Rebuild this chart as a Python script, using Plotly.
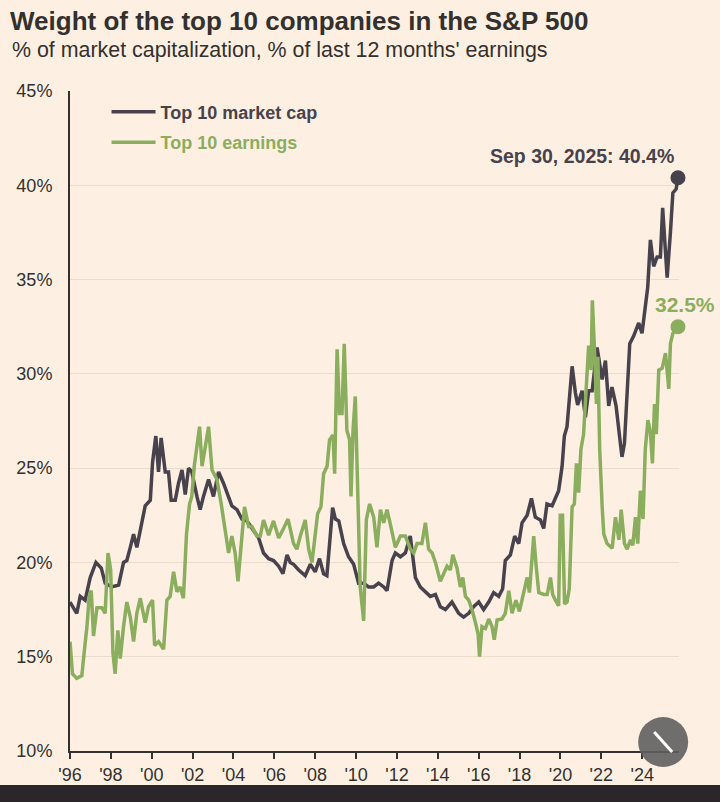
import plotly.graph_objects as go

# values (decimal year, % weight)
mcap_t = [1996.00, 1996.33, 1996.50, 1996.74, 1996.99, 1997.27, 1997.53, 1997.72, 1998.05, 1998.38,
          1998.62, 1998.78, 1998.95, 1999.11, 1999.27, 1999.44, 1999.68, 1999.93, 2000.04, 2000.20,
          2000.33, 2000.46, 2000.66, 2000.82, 2000.95, 2001.15, 2001.31, 2001.48, 2001.64, 2001.80,
          2001.96, 2002.21, 2002.37, 2002.53, 2002.78, 2003.02, 2003.27, 2003.51, 2003.68, 2003.92,
          2004.17, 2004.41, 2004.66, 2004.98, 2005.23, 2005.47, 2005.72, 2005.96, 2006.21, 2006.42,
          2006.62, 2006.78, 2006.94, 2007.19, 2007.51, 2007.76, 2008.00, 2008.21, 2008.41, 2008.57,
          2008.74, 2008.85, 2008.99, 2009.15, 2009.39, 2009.63, 2009.88, 2010.12, 2010.37, 2010.61,
          2010.86, 2011.10, 2011.35, 2011.51, 2011.76, 2011.92, 2012.17, 2012.41, 2012.65, 2012.90,
          2013.14, 2013.39, 2013.63, 2013.88, 2014.12, 2014.37, 2014.69, 2015.02, 2015.26, 2015.51,
          2015.75, 2016.00, 2016.24, 2016.49, 2016.73, 2016.98, 2017.17, 2017.30, 2017.55, 2017.76,
          2017.96, 2018.12, 2018.37, 2018.58, 2018.77, 2019.02, 2019.18, 2019.34, 2019.59, 2019.75,
          2019.91, 2020.08, 2020.19, 2020.32, 2020.57, 2020.73, 2020.84, 2021.06, 2021.22, 2021.38,
          2021.55, 2021.79, 2021.95, 2022.04, 2022.20, 2022.36, 2022.52, 2022.72, 2022.88, 2023.01,
          2023.13, 2023.26, 2023.39, 2023.58, 2023.83, 2023.99, 2024.15, 2024.27, 2024.40, 2024.56,
          2024.73, 2024.89, 2025.00, 2025.13, 2025.22, 2025.38, 2025.50, 2025.66, 2025.75]
mcap = [17.9, 17.3, 18.2, 18.0, 19.2, 20.0, 19.7, 18.9, 18.7, 18.8,
        20.0, 20.1, 20.8, 21.5, 20.8, 21.7, 23.0, 23.3, 25.3, 26.7,
        24.8, 26.6, 24.8, 24.8, 23.3, 23.3, 24.2, 24.9, 23.6, 25.0,
        24.8, 23.5, 22.8, 23.5, 24.4, 23.5, 24.8, 24.2, 23.7, 23.0,
        22.8, 22.3, 22.2, 21.7, 21.3, 20.5, 20.2, 20.1, 19.8, 19.4,
        20.4, 20.0, 19.9, 19.6, 19.3, 19.9, 19.5, 20.2, 19.4, 19.3,
        21.5, 22.9, 22.3, 22.2, 21.0, 20.3, 19.9, 18.9, 18.9, 18.7,
        18.7, 18.9, 18.7, 18.5, 20.1, 20.5, 20.3, 20.5, 21.4, 19.2,
        18.7, 18.45, 18.2, 18.3, 17.65, 17.5, 17.9, 17.3, 17.1, 17.3,
        17.65, 17.9, 17.5, 17.9, 18.4, 18.2, 18.6, 20.1, 20.4, 21.4,
        21.0, 22.1, 22.5, 23.4, 22.4, 22.25, 21.8, 23.1, 23.0, 23.4,
        23.8, 25.1, 26.7, 27.2, 30.4, 29.0, 28.35, 29.1, 27.7, 29.1,
        29.1, 31.4, 30.2, 29.7, 30.7, 28.3, 29.3, 28.3, 26.8, 25.6,
        26.3, 28.8, 31.6, 32.0, 32.7, 32.15, 33.6, 34.6, 37.1, 35.7,
        36.2, 36.2, 38.8, 36.9, 35.1, 37.5, 39.6, 39.8, 40.4]

earn_t = [1996.00, 1996.12, 1996.33, 1996.58, 1996.71, 1996.83, 1996.94, 1997.04, 1997.15, 1997.32,
          1997.56, 1997.72, 1997.86, 1997.99, 1998.10, 1998.21, 1998.34, 1998.46, 1998.62, 1998.78,
          1998.95, 1999.11, 1999.27, 1999.44, 1999.68, 1999.84, 2000.04, 2000.14, 2000.33, 2000.58,
          2000.74, 2000.90, 2001.07, 2001.23, 2001.39, 2001.55, 2001.70, 2001.85, 2001.96, 2002.08,
          2002.34, 2002.46, 2002.57, 2002.78, 2002.95, 2003.19, 2003.40, 2003.60, 2003.76, 2003.92,
          2004.08, 2004.22, 2004.38, 2004.54, 2004.74, 2004.90, 2005.15, 2005.31, 2005.47, 2005.72,
          2005.96, 2006.21, 2006.45, 2006.67, 2006.94, 2007.10, 2007.27, 2007.51, 2007.68, 2007.84,
          2007.97, 2008.12, 2008.28, 2008.41, 2008.58, 2008.70, 2008.87, 2008.95, 2009.07, 2009.19,
          2009.31, 2009.42, 2009.55, 2009.68, 2009.75, 2009.85, 2009.96, 2010.07, 2010.20, 2010.37,
          2010.50, 2010.66, 2010.86, 2011.02, 2011.19, 2011.35, 2011.51, 2011.68, 2011.92, 2012.17,
          2012.41, 2012.66, 2012.82, 2012.98, 2013.22, 2013.39, 2013.55, 2013.72, 2013.88, 2014.12,
          2014.29, 2014.45, 2014.61, 2014.73, 2014.94, 2015.10, 2015.22, 2015.35, 2015.51, 2015.67,
          2015.84, 2015.97, 2016.04, 2016.16, 2016.33, 2016.49, 2016.65, 2016.76, 2016.90, 2017.14,
          2017.30, 2017.47, 2017.63, 2017.82, 2017.99, 2018.20, 2018.37, 2018.48, 2018.58, 2018.69,
          2018.81, 2018.94, 2019.18, 2019.35, 2019.51, 2019.62, 2019.75, 2019.91, 2019.99, 2020.10,
          2020.20, 2020.32, 2020.43, 2020.57, 2020.68, 2020.78, 2020.89, 2021.00, 2021.13, 2021.27,
          2021.38, 2021.50, 2021.56, 2021.66, 2021.76, 2021.83, 2021.92, 2022.04, 2022.12, 2022.28,
          2022.53, 2022.69, 2022.86, 2022.97, 2023.13, 2023.26, 2023.43, 2023.54, 2023.67, 2023.78,
          2023.91, 2024.04, 2024.15, 2024.28, 2024.40, 2024.50, 2024.60, 2024.69, 2024.81, 2024.98,
          2025.14, 2025.30, 2025.38, 2025.50, 2025.75]
earn = [15.8, 14.1, 13.85, 14.0, 15.4, 16.6, 18.2, 18.5, 16.1, 17.6,
        17.6, 17.3, 20.5, 19.6, 15.2, 14.1, 16.4, 14.9, 16.6, 17.9,
        17.1, 15.8, 17.3, 18.1, 16.8, 17.65, 18.0, 15.6, 15.8, 15.4,
        18.0, 18.2, 19.5, 18.45, 18.7, 18.1, 21.5, 23.1, 23.5, 25.1,
        27.2, 25.1, 25.8, 27.2, 24.9, 24.4, 23.1, 21.5, 20.5, 21.4,
        20.5, 19.0, 20.8, 22.95, 21.9, 21.9, 21.4, 21.4, 22.25, 21.45,
        22.2, 21.3, 21.8, 22.3, 21.0, 20.7, 21.4, 22.25, 20.7, 20.0,
        21.2, 22.6, 22.95, 24.7, 25.1, 26.5, 26.75, 24.7, 31.3, 27.9,
        27.9, 31.6, 27.0, 26.5, 23.5, 27.0, 28.8, 24.0, 18.7, 16.9,
        22.25, 23.1, 22.4, 20.8, 22.8, 22.1, 22.8, 22.0, 20.8, 21.4,
        21.4, 20.7, 20.5, 21.0, 21.0, 22.1, 20.7, 20.5, 20.0, 19.0,
        19.4, 19.8, 19.6, 20.4, 19.7, 18.7, 19.2, 18.2, 18.0, 17.5,
        16.8, 16.2, 15.0, 16.6, 16.5, 17.0, 16.6, 15.9, 16.95, 17.0,
        17.3, 18.5, 17.3, 18.0, 17.4, 18.4, 19.2, 18.4, 19.6, 21.4,
        19.8, 18.4, 18.3, 18.3, 19.2, 18.3, 18.0, 17.7, 22.5, 22.5,
        17.8, 17.9, 18.6, 22.95, 23.1, 25.25, 23.7, 26.0, 26.8, 29.85,
        31.5, 30.2, 33.9, 31.4, 28.4, 30.9, 26.0, 22.95, 21.5, 21.0,
        20.75, 22.4, 21.2, 22.8, 21.0, 20.7, 21.2, 20.9, 22.4, 21.0,
        23.8, 22.3, 26.0, 27.55, 26.9, 25.25, 28.4, 26.8, 30.2, 30.3,
        31.1, 29.2, 31.6, 32.15, 32.5]

tick_years = list(range(1996, 2026, 2))
tick_labels = ["'" + str(y)[2:] for y in tick_years]
pct_ticks = list(range(10, 50, 5))
pct_labels = ["%d%%" % v for v in pct_ticks]

DARK = "#47424B"
GREEN = "#8BAD5E"
INK = "#33302E"
BG = "#FDF0E3"
FONT = "Liberation Sans, Arial, sans-serif"

fig = go.Figure()
fig.add_trace(go.Scatter(x=mcap_t, y=mcap, mode="lines", name="Top 10 market cap",
                         legendgroup="a", line=dict(color=DARK, width=3.5)))
fig.add_trace(go.Scatter(x=earn_t, y=earn, mode="lines",
                         name="<span style='color:%s'>Top 10 earnings</span>" % GREEN,
                         legendgroup="b", line=dict(color=GREEN, width=3.5)))

# end points
fig.add_trace(go.Scatter(x=[mcap_t[-1]], y=[mcap[-1]], mode="markers", showlegend=False,
                         marker=dict(color=DARK, size=15), cliponaxis=False))
fig.add_trace(go.Scatter(x=[earn_t[-1]], y=[earn[-1]], mode="markers", showlegend=False,
                         marker=dict(color=GREEN, size=15), cliponaxis=False))

fig.add_annotation(x=mcap_t[-1], y=mcap[-1], text="<b>Sep 30, 2025: %.1f%%</b>" % mcap[-1],
                   showarrow=False, xanchor="right", yanchor="middle", xshift=-2, yshift=22,
                   font=dict(family=FONT, size=19.5, color=DARK))
fig.add_annotation(x=earn_t[-1], y=earn[-1], text="<b>%.1f%%</b>" % earn[-1],
                   showarrow=False, xanchor="center", yanchor="middle", xshift=7, yshift=22,
                   font=dict(family=FONT, size=21, color=GREEN))

fig.add_annotation(xref="paper", yref="paper", x=-0.0985, y=1.062, xanchor="left", yanchor="middle",
                   text="% of market capitalization, % of last 12 months' earnings", showarrow=False,
                   font=dict(family=FONT, size=21.4, color=INK))

# video overlay bits from the screenshot
fig.add_shape(type="rect", xref="paper", yref="paper", x0=-0.2, x1=1.2, y0=-0.1, y1=-0.0515,
              fillcolor="#2B2629", line_width=0, layer="above")
fig.add_shape(type="circle", xref="paper", yref="paper", xsizemode="pixel", ysizemode="pixel",
              xanchor=0.974, yanchor=0.0136, x0=-25, x1=25, y0=-25, y1=25,
              fillcolor="rgba(95,95,95,0.9)", line_width=0, layer="above")
fig.add_shape(type="line", xref="paper", yref="paper", xsizemode="pixel", ysizemode="pixel",
              xanchor=0.974, yanchor=0.0136, x0=-9, x1=9, y0=10, y1=-10,
              line=dict(color="white", width=3), layer="above")

fig.update_layout(
    width=720, height=802,
    paper_bgcolor=BG, plot_bgcolor=BG,
    margin=dict(l=70, r=41, t=91, b=51),
    title=dict(text="<b>Weight of the top 10 companies in the S&P 500</b>",
               xref="container", x=10 / 720, xanchor="left",
               yref="container", y=1 - 21 / 802, yanchor="middle",
               font=dict(family=FONT, size=26, color=INK)),
    legend=dict(x=0.06, y=0.996, xanchor="left", yanchor="top", bgcolor="rgba(0,0,0,0)",
                font=dict(family=FONT, size=18, color=DARK, weight="bold"),
                tracegroupgap=4, itemwidth=44),
    showlegend=True,
)
fig.update_xaxes(range=[1996, 2025.8], tickvals=tick_years, ticktext=tick_labels,
                 showgrid=False, zeroline=False, showline=True, linecolor=INK, linewidth=2,
                 ticks="outside", ticklen=6, tickwidth=1.5, tickcolor=INK,
                 tickfont=dict(family=FONT, size=18, color=INK))
fig.update_yaxes(range=[10, 45], tickvals=pct_ticks, ticktext=pct_labels,
                 showgrid=True, gridcolor="#EBDCCD", gridwidth=1, zeroline=False,
                 showline=True, linecolor=INK, linewidth=2, ticklabelstandoff=12,
                 tickfont=dict(family=FONT, size=18, color=INK))

# drop the browser's default page margin so the figure sits at the window corner
fig.write_html("out.html", config={"displayModeBar": False},
               post_script="document.body.style.margin='0';")
